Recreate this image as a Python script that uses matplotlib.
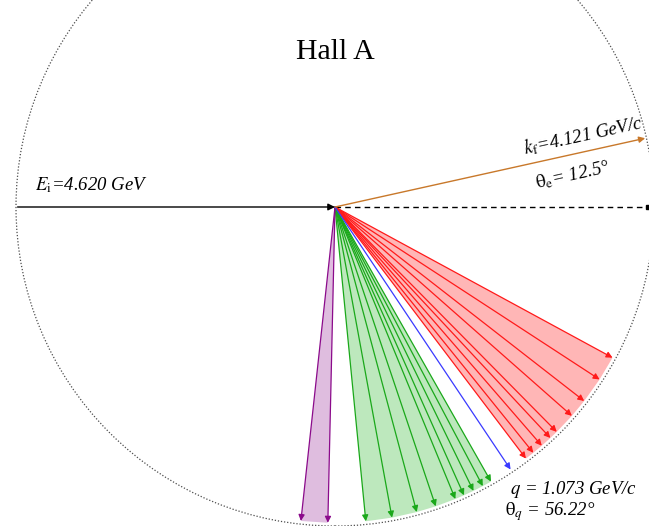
import numpy as np
import matplotlib
matplotlib.use("Agg")
import matplotlib.pyplot as plt
from matplotlib.patches import Circle, Polygon

plt.rcParams['font.family'] = ['Liberation Serif', 'DejaVu Serif']
plt.rcParams['mathtext.fontset'] = 'stix'

# kinematics (angles in degrees, measured below the beam line)
beam_energy = 4.620
kf = 4.121
theta_e = 12.5
q_mag = 1.073
theta_q = 56.22

red_angles = [28.5, 33.1, 37.9, 41.4, 45.4, 47.0, 49.1, 51.1, 52.8]
green_angles = [60.4, 62.1, 64.0, 65.9, 67.6, 71.4, 75.0, 79.6, 84.4]
purple_angles = [91.3, 96.2]

R = 1.0
arrow_len = 0.99

fig = plt.figure(figsize=(6.49, 5.26), dpi=100)
ax = fig.add_axes([0, 0, 1, 1])
scale = 319.0  # pixels per unit
ax.set_xlim(-335 / scale, (649 - 335) / scale)
ax.set_ylim(-(526 - 207) / scale, 207 / scale)
ax.axis('off')

ax.add_patch(Circle((0, 0), R, fill=False, ls=(0, (1, 1.5)), lw=0.9, color='0.3'))


def tip(ang, r=arrow_len):
    a = np.deg2rad(ang)
    return r * np.cos(a), -r * np.sin(a)


def arrow(p0, p1, color, lw=0.9, ms=9):
    ax.annotate('', xy=p1, xytext=p0,
                arrowprops=dict(arrowstyle='-|>', color=color, lw=lw,
                                mutation_scale=ms, shrinkA=0, shrinkB=0))


def fan(angles, line_color, fill_color):
    pts = [(0, 0)] + [tip(a) for a in angles]
    ax.add_patch(Polygon(pts, closed=True, fc=fill_color, ec='none', zorder=1))
    for a in angles:
        arrow((0, 0), tip(a), line_color)


fan(red_angles, '#ff1a1a', '#ffb6b6')
fan(green_angles, '#1aa81a', '#bde8bd')
fan(purple_angles, '#8b0a8b', '#dfbddf')
arrow((0, 0), tip(theta_q), '#3a3aff')

# beam
arrow((-R + 0.005, 0), (0, 0), 'black', lw=1.0, ms=10)
ax.plot([0, 0.98], [0, 0], ls=(0, (4, 3)), color='black', lw=1.0)
ax.plot([0.98], [0], marker='s', ms=3, color='black')

# scattered electron
arrow((0, 0), tip(-theta_e, 0.996), '#c8782a', lw=1.0)

fs = 13.5
ax.text(0, 0.486, 'Hall A', ha='center', va='center', fontsize=21.5)
ax.text(-0.940, 0.053, r'$E_\mathrm{i}$=%.3f GeV' % beam_energy,
        style='italic', fontsize=fs, ha='left', va='baseline')
ax.text(0.777, 0.224, r'$k_\mathrm{f}$=%.3f GeV/c' % kf, style='italic',
        fontsize=fs, ha='center', va='center', rotation=theta_e,
        rotation_mode='anchor')
ax.text(0.746, 0.100, r'$\mathrm{\theta}_\mathrm{e}$= %.1f°' % theta_e,
        style='italic', fontsize=fs, ha='center', va='center',
        rotation=theta_e, rotation_mode='anchor')
ax.text(0.549, -0.887, r'$q$ = %.3f GeV/c' % q_mag, style='italic',
        fontsize=fs, ha='left', va='center')
ax.text(0.533, -0.956, r'$\mathrm{\theta}_q$ = %.2f°' % theta_q,
        style='italic', fontsize=fs, ha='left', va='center')

fig.savefig('out.png', dpi=100)
